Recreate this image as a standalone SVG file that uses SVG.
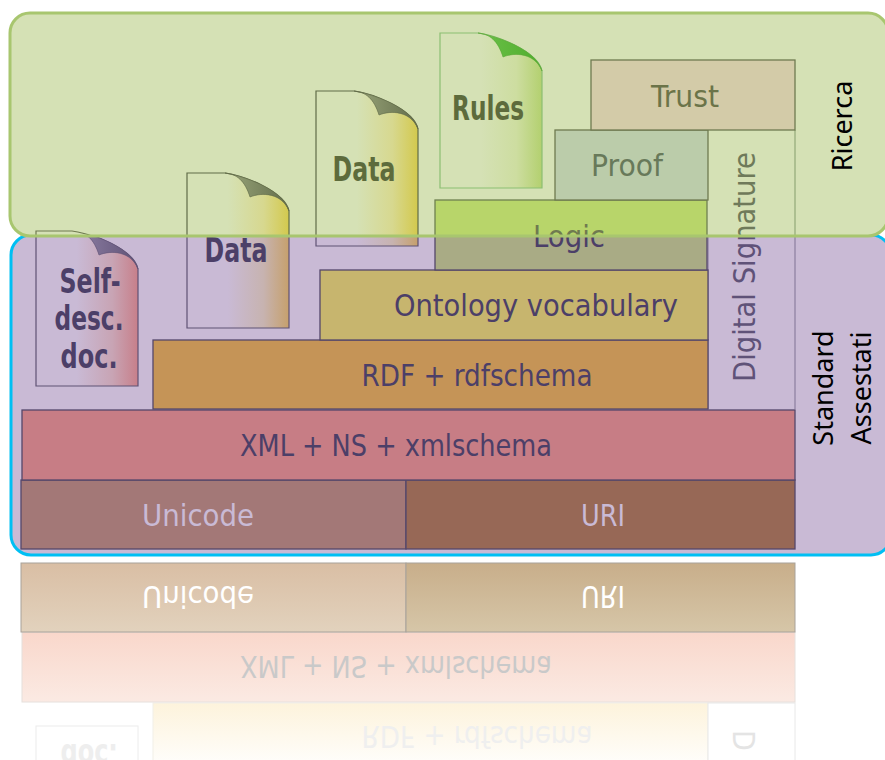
<svg xmlns="http://www.w3.org/2000/svg" width="885" height="760" viewBox="0 0 885 760">
<style>
text{font-family:"DejaVu Sans Condensed","DejaVu Sans","Liberation Sans",sans-serif;font-stretch:condensed;text-anchor:middle}
.l{font-size:30px}
.b{font-size:33px;font-weight:bold}
.n{font-family:"Noto Sans","Open Sans",sans-serif;font-stretch:normal;font-size:27px;fill:#000}
.p{fill:#4c3f68}
.box{stroke:#55476a;stroke-width:1.3}
.g{fill:#5d6b3c}
</style>
<defs>
<clipPath id="top"><rect x="0" y="0" width="885" height="236"/></clipPath>
<clipPath id="bot"><rect x="0" y="236" width="885" height="330"/></clipPath>
<linearGradient id="yel" x1="0" x2="1" y1="0" y2="0"><stop offset=".4" stop-color="#d5e1b5"/><stop offset=".75" stop-color="#d7d88f"/><stop offset="1" stop-color="#d3c94d"/></linearGradient>
<linearGradient id="tan" x1="0" x2="1" y1="0" y2="0"><stop offset=".4" stop-color="#c9bad5"/><stop offset=".75" stop-color="#c7b3b0"/><stop offset="1" stop-color="#c6a06c"/></linearGradient>
<linearGradient id="red" x1="0" x2="1" y1="0" y2="0"><stop offset=".4" stop-color="#c9bad5"/><stop offset=".75" stop-color="#c8a4b4"/><stop offset="1" stop-color="#c77f8a"/></linearGradient>
<linearGradient id="grn" x1="0" x2="1" y1="0" y2="0"><stop offset=".4" stop-color="#d5e1b5"/><stop offset=".75" stop-color="#cdddA0"/><stop offset="1" stop-color="#b3d06f"/></linearGradient>
<linearGradient id="foldD" x1="0" x2="1" y1="0" y2="0"><stop offset="0" stop-color="#9aa67a"/><stop offset="1" stop-color="#636d4b"/></linearGradient>
<linearGradient id="foldP" x1="0" x2="1" y1="0" y2="0"><stop offset="0" stop-color="#8f80a6"/><stop offset="1" stop-color="#5f5275"/></linearGradient>
<linearGradient id="foldG" x1="0" x2="1" y1="0" y2="0"><stop offset="0" stop-color="#6cc04a"/><stop offset="1" stop-color="#4fae2c"/></linearGradient>
<linearGradient id="rU" x1="0" x2="0" y1="0" y2="1"><stop offset="0" stop-color="#e2d2bd"/><stop offset="1" stop-color="#d9bea4"/></linearGradient>
<linearGradient id="rI" x1="0" x2="0" y1="0" y2="1"><stop offset="0" stop-color="#d6c6a8"/><stop offset="1" stop-color="#c8ae8a"/></linearGradient>
<linearGradient id="rX" x1="0" x2="0" y1="0" y2="1"><stop offset="0" stop-color="#fbeae3"/><stop offset="1" stop-color="#f9d7cb"/></linearGradient>
<linearGradient id="rR" x1="0" x2="0" y1="0" y2="1"><stop offset="0" stop-color="#ffffff"/><stop offset="1" stop-color="#fdf3dc"/></linearGradient>
<path id="page" d="M0,0H38C55,2 98,18 102,38V155H0Z"/>
<path id="fold" d="M38,0C50,1 58,8 63,24C75,19 95,20 102,38C98,20 66,5 38,0Z"/>
</defs>

<g id="panel-standard"><rect x="11" y="235" width="880" height="320" rx="20" fill="#c9bad5" stroke="#00bff3" stroke-width="3"/></g>
<g id="panel-ricerca-fill"><rect x="10" y="13" width="878" height="223" rx="20" fill="#d5e1b5"/></g>

<g id="reflection" transform="matrix(1 0 0 -1 0 1112)">
<rect x="153" y="340" width="555" height="69" fill="url(#rR)" stroke="#f2f0e8"/>
<rect x="36" y="300" width="102" height="86" fill="#fff" stroke="#ececec"/>
<rect x="708" y="340" width="87" height="69" fill="#fff" stroke="#e8e8e8"/>
<rect x="22" y="410" width="773" height="70" fill="url(#rX)" stroke="#e6e0dc"/>
<rect x="21" y="480" width="385" height="69" fill="url(#rU)" stroke="#a8a29a"/>
<rect x="406" y="480" width="389" height="69" fill="url(#rI)" stroke="#a8a29a"/>
<text class="l" x="198" y="526" fill="#fff" textLength="112" lengthAdjust="spacingAndGlyphs">Unicode</text>
<text class="l" x="603" y="526" fill="#fff" textLength="44" lengthAdjust="spacingAndGlyphs">URI</text>
<text class="l" x="396" y="456" fill="#c9c9c9" textLength="312" lengthAdjust="spacingAndGlyphs">XML + NS + xmlschema</text>
<text class="l" x="477" y="386" fill="#efefef" textLength="231" lengthAdjust="spacingAndGlyphs">RDF + rdfschema</text>
<text class="b" x="89" y="368" fill="#eeeeee" textLength="57" lengthAdjust="spacingAndGlyphs">doc.</text>
<text class="l" fill="#e4e4e4" style="text-anchor:start" transform="translate(755,382) rotate(-90)">D</text>
</g>

<g id="doc-self">
<use href="#page" x="36" y="231" fill="url(#red)" stroke="#5f5275" stroke-width="1.2"/>
<use href="#fold" x="36" y="231" fill="url(#foldP)" stroke="#5f5275" stroke-width=".6"/>
<rect x="20" y="225" width="125" height="11" fill="#d5e1b5"/>
<path d="M36,236V231H72C78,232 84,233 92,236" fill="none" stroke="#6f7a50" stroke-width="1.2"/>
<text class="b p" x="90" y="293" textLength="61" lengthAdjust="spacingAndGlyphs">Self-</text><text class="b p" x="89" y="330" textLength="69" lengthAdjust="spacingAndGlyphs">desc.</text><text class="b p" x="89" y="368" textLength="57" lengthAdjust="spacingAndGlyphs">doc.</text>
</g>

<g id="doc-data-1">
<g clip-path="url(#top)">
<use href="#page" x="187" y="173" fill="url(#yel)" stroke="#616c48" stroke-width="1.2"/>
<use href="#fold" x="187" y="173" fill="url(#foldD)" stroke="#616c48" stroke-width=".6"/>
</g>
<g clip-path="url(#bot)"><use href="#page" x="187" y="173" fill="url(#tan)" stroke="#5f5275" stroke-width="1.2"/></g>
<text class="b p" x="236" y="262" textLength="63" lengthAdjust="spacingAndGlyphs">Data</text>
</g>

<g id="doc-data-2">
<g clip-path="url(#top)">
<use href="#page" x="316" y="91" fill="url(#yel)" stroke="#616c48" stroke-width="1.2"/>
<use href="#fold" x="316" y="91" fill="url(#foldD)" stroke="#616c48" stroke-width=".6"/>
</g>
<g clip-path="url(#bot)"><use href="#page" x="316" y="91" fill="url(#tan)" stroke="#5f5275" stroke-width="1.2"/></g>
<text class="b g" x="364" y="181" textLength="63" lengthAdjust="spacingAndGlyphs">Data</text>
</g>

<g id="doc-rules">
<use href="#page" x="440" y="33" fill="url(#grn)" stroke="#8cbf72" stroke-width="1.2"/>
<use href="#fold" x="440" y="33" fill="url(#foldG)" stroke="#5aa838" stroke-width=".6"/>
<text class="b g" x="488" y="120" textLength="72" lengthAdjust="spacingAndGlyphs">Rules</text>
</g>

<g id="digital-signature">
<path d="M795,130V236" fill="none" stroke="#93a878" stroke-width="1.2"/>
<path d="M795,236V409M708,409V236" fill="none" stroke="#8c7fa0" stroke-width="1.2"/>
<g clip-path="url(#top)"><text class="l" fill="#6f7a5a" transform="translate(755,267) rotate(-90)" textLength="230" lengthAdjust="spacingAndGlyphs">Digital Signature</text></g>
<g clip-path="url(#bot)"><text class="l" fill="#5f5278" transform="translate(755,267) rotate(-90)" textLength="230" lengthAdjust="spacingAndGlyphs">Digital Signature</text></g>
</g>

<g id="unicode"><rect class="box" x="21" y="480" width="385" height="69" fill="#a37877"/><text class="l" x="198" y="526" fill="#c9bad5" textLength="112" lengthAdjust="spacingAndGlyphs">Unicode</text></g>
<g id="uri"><rect class="box" x="406" y="480" width="389" height="69" fill="#976856"/><text class="l" x="603" y="526" fill="#c9bad5" textLength="44" lengthAdjust="spacingAndGlyphs">URI</text></g>
<g id="xml"><rect class="box" x="22" y="410" width="773" height="70" fill="#c77d85"/><text class="l p" x="396" y="456" textLength="312" lengthAdjust="spacingAndGlyphs">XML + NS + xmlschema</text></g>
<g id="rdf"><rect class="box" x="153" y="340" width="555" height="69" fill="#c59457"/><text class="l p" x="477" y="386" textLength="231" lengthAdjust="spacingAndGlyphs">RDF + rdfschema</text></g>
<g id="ontology"><rect class="box" x="320" y="270" width="388" height="70" fill="#c7b56e"/><text class="l p" x="536" y="316" textLength="284" lengthAdjust="spacingAndGlyphs">Ontology vocabulary</text></g>
<g id="logic">
<rect x="435" y="200" width="272" height="36" fill="#b8d56a" stroke="#6f8050" stroke-width="1.3"/>
<rect class="box" x="435" y="236" width="272" height="34" fill="#a9ab85"/>
<text class="l" x="569" y="247" fill="#6f7a50" clip-path="url(#top)" textLength="72" lengthAdjust="spacingAndGlyphs">Logic</text>
<text class="l p" x="569" y="247" clip-path="url(#bot)" textLength="72" lengthAdjust="spacingAndGlyphs">Logic</text>
</g>
<g id="proof"><rect x="555" y="130" width="153" height="70" fill="#bbccaa" stroke="#6f7a50" stroke-width="1.3"/><text class="l" x="627" y="176" fill="#68795a" textLength="72" lengthAdjust="spacingAndGlyphs">Proof</text></g>
<g id="trust"><rect x="591" y="60" width="204" height="70" fill="#d3cba8" stroke="#6f7a50" stroke-width="1.3"/><text class="l" x="685" y="107" fill="#6b7449" textLength="68" lengthAdjust="spacingAndGlyphs">Trust</text></g>

<g id="panel-ricerca"><rect x="10" y="13" width="878" height="223" rx="20" fill="none" stroke="#a8c66f" stroke-width="3"/></g>
<g id="label-ricerca"><text class="n" transform="translate(852,126) rotate(-90)">Ricerca</text></g>
<g id="label-standard"><text class="n" transform="translate(833,388) rotate(-90)">Standard</text><text class="n" transform="translate(871,388) rotate(-90)">Assestati</text></g>
</svg>
